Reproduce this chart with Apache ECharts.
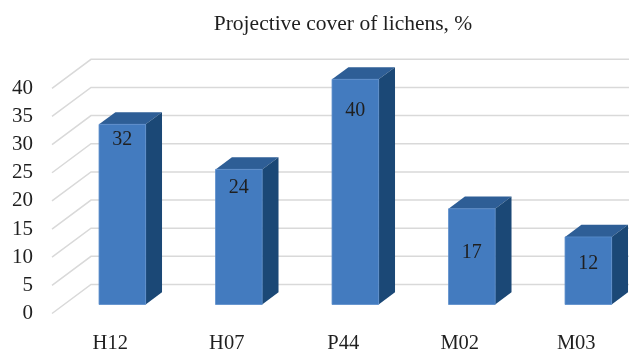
<!DOCTYPE html>
<html>
<head>
<meta charset="utf-8">
<script src="https://cdn.jsdelivr.net/npm/echarts@6/dist/echarts.min.js"></script>
<style>
  html, body { margin: 0; padding: 0; background: #ffffff; }
  #chart { width: 629px; height: 352px; }
</style>
</head>
<body>
<div id="chart"></div>
<script>
// Projective cover of lichens per plot, %
const categories = ['H12', 'H07', 'P44', 'M02', 'M03'];
const coverValues = [32, 24, 40, 17, 12];
const yTicks = [0, 5, 10, 15, 20, 25, 30, 35, 40];

// Oblique projection: screen offset from the front plane to the back wall
const DEPTH = [39, -29];
const BAR_NEAR = 0.31;   // depth fraction where a column's front face sits
const BAR_FAR = 0.73;    // depth fraction of a column's back face
const BAR_WIDTH = 0.4;   // share of the category band
const LABEL_DROP = [15, 18, 31, 44, 27]; // label offset below the column top
const FONT = "'Liberation Serif', 'Times New Roman', serif";

const COLORS = { front: '#437bbf', top: '#2e5e96', side: '#1b4876', edge: '#5a8dcc' };

const chart = echarts.init(document.getElementById('chart'), null, { renderer: 'canvas' });

// Gridline: short diagonal on the left floor edge, then a horizontal line on the back wall
function renderGridLine(params, api) {
  const cs = params.coordSys;
  const y = api.coord([0, api.value(1)])[1];
  const x0 = cs.x;
  return {
    type: 'polyline',
    silent: true,
    shape: { points: [[x0, y], [x0 + DEPTH[0], y + DEPTH[1]], [cs.x + cs.width + DEPTH[0] + 40, y + DEPTH[1]]] },
    style: { stroke: '#d9d9d9', lineWidth: 1.5, fill: null }
  };
}

// 3D column: front face, top face, right side face and value label
function renderColumn(params, api) {
  const i = api.value(0);
  const v = api.value(1);
  const base = api.coord([i, 0]);
  const top = api.coord([i, v]);
  const band = api.size([1, 0])[0];
  const w = band * BAR_WIDTH;
  const ox = DEPTH[0] * BAR_NEAR, oy = DEPTH[1] * BAR_NEAR;
  const dx = DEPTH[0] * (BAR_FAR - BAR_NEAR), dy = DEPTH[1] * (BAR_FAR - BAR_NEAR);
  const xl = base[0] - w / 2 + ox, xr = xl + w;
  const yb = base[1] + oy, yt = top[1] + oy;
  return {
    type: 'group',
    children: [
      { type: 'polygon', shape: { points: [[xl, yt], [xr, yt], [xr + dx, yt + dy], [xl + dx, yt + dy]] },
        style: { fill: COLORS.top } },
      { type: 'polygon', shape: { points: [[xr, yt], [xr + dx, yt + dy], [xr + dx, yb + dy], [xr, yb]] },
        style: { fill: COLORS.side } },
      { type: 'rect', shape: { x: xl, y: yt, width: w, height: yb - yt },
        style: { fill: COLORS.front, stroke: COLORS.edge, lineWidth: 0.8 } },
      { type: 'text', style: {
          text: String(v), x: (xl + xr) / 2, y: yt + LABEL_DROP[params.dataIndex],
          align: 'center', verticalAlign: 'middle',
          fontFamily: FONT, fontSize: 20, fill: '#1f1f1f' } }
    ]
  };
}

chart.setOption({
  animation: false,
  title: {
    text: 'Projective cover of lichens, %',
    left: 338, top: 7, textAlign: 'center',
    textStyle: { fontFamily: FONT, fontSize: 21.5, fontWeight: 'normal', color: '#1f1f1f', lineHeight: 24 }
  },
  grid: { left: 52, top: 88.3, width: 582.5, bottom: 38.5, outerBoundsMode: 'none' },
  xAxis: {
    type: 'category',
    data: categories,
    axisLine: { show: false },
    axisTick: { show: false },
    splitLine: { show: false },
    axisLabel: { margin: 20, fontFamily: FONT, fontSize: 20.5, color: '#1f1f1f', lineHeight: 20 }
  },
  yAxis: {
    type: 'value',
    min: 0, max: 40, interval: 5,
    axisLine: { show: false },
    axisTick: { show: false },
    splitLine: { show: false },
    axisLabel: { margin: 19, fontFamily: FONT, fontSize: 21, color: '#1f1f1f' }
  },
  series: [
    {
      type: 'custom',
      name: 'gridlines',
      clip: false,
      silent: true,
      z: 1,
      renderItem: renderGridLine,
      data: yTicks.map(t => [0, t])
    },
    {
      type: 'custom',
      name: 'cover',
      clip: false,
      z: 2,
      renderItem: renderColumn,
      data: coverValues.map((v, i) => [i, v])
    }
  ]
});
</script>
</body>
</html>
